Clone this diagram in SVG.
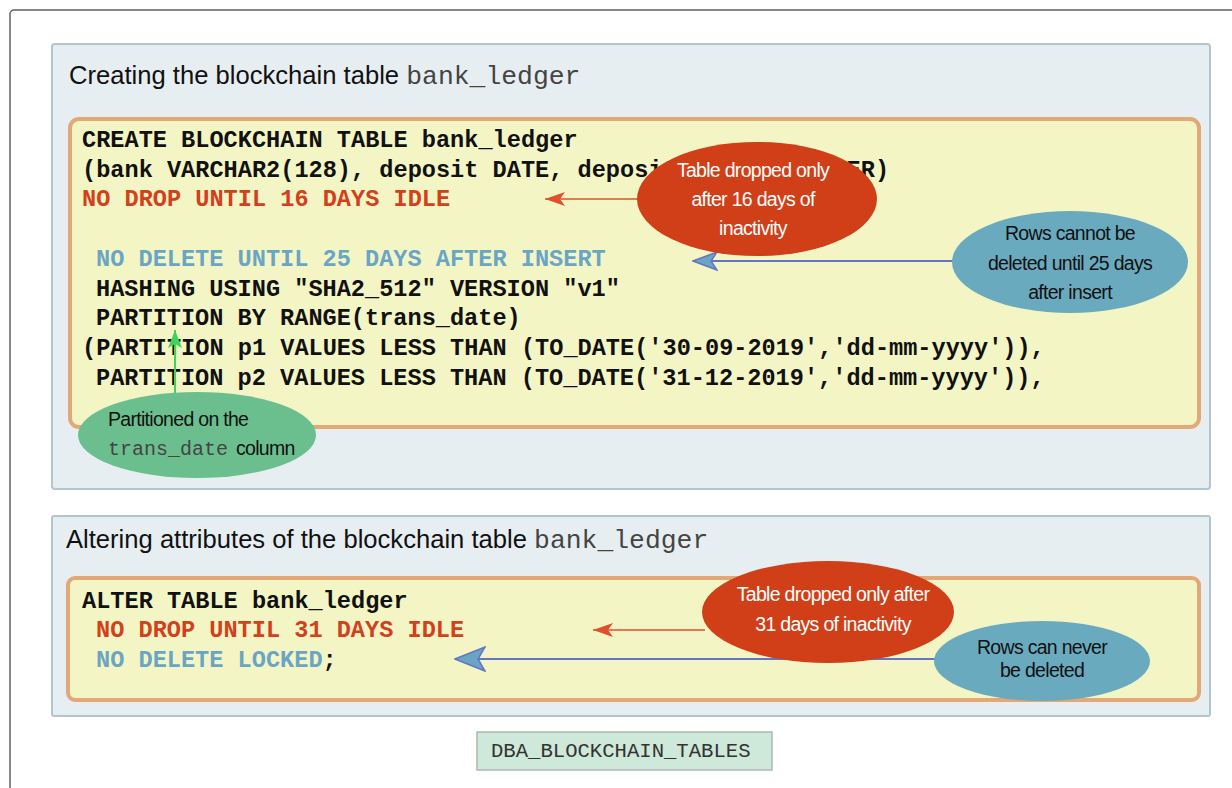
<svg xmlns="http://www.w3.org/2000/svg" width="1232" height="788" viewBox="0 0 1232 788">
<defs>
<style>
.frame{fill:#fff;stroke:#5a6068;stroke-width:1.5}
.panel{fill:#e7eef2;stroke:#b3c5d1;stroke-width:2}
.code-box{fill:#f4f5c4;stroke:#e3a878;stroke-width:4}
.title{font-family:"Liberation Sans",Arial,sans-serif;font-size:25.6px;fill:#111}
.tmono{font-family:"Liberation Mono","Courier New",monospace;font-size:26.4px;fill:#444}
.code{font-family:"Liberation Mono","Courier New",monospace;font-weight:bold;font-size:23.6px;fill:#111}
.red{fill:#d2401c}
.blue{fill:#6aa6c4}
.note{font-family:"Liberation Sans",Arial,sans-serif;font-size:19.5px;letter-spacing:-0.7px;text-anchor:middle}
.wt{fill:#fff}
.dk{fill:#111}
.e-red{fill:#d13f18}
.e-blue{fill:#6aaabf}
.e-green{fill:#6bbf8e}
.ln-red{stroke:#e0502c;stroke-width:1.6;fill:none}
.ln-blue{stroke:#6474c6;stroke-width:2;fill:none}
.ln-green{stroke:#3fd35c;stroke-width:2;fill:none}
</style>
<marker id="ah-red" viewBox="0 0 20 14" refX="20" refY="7" markerWidth="20" markerHeight="14" markerUnits="userSpaceOnUse" orient="auto">
<path d="M0,0 L20,7 L0,14 L5,7 Z" fill="#e0502c"/>
</marker>
<marker id="ah-blue" viewBox="0 0 26 20" refX="25" refY="10" markerWidth="26" markerHeight="20" markerUnits="userSpaceOnUse" orient="auto">
<path d="M1,1 L25,10 L1,19 L7,10 Z" fill="#6aa6c4" stroke="#6474c6" stroke-width="1.5"/>
</marker>
<marker id="ah-blue2" viewBox="0 0 32 26" refX="31" refY="13" markerWidth="32" markerHeight="26" markerUnits="userSpaceOnUse" orient="auto">
<path d="M1,1 L31,13 L1,25 L8,13 Z" fill="#6aa6c4" stroke="#6474c6" stroke-width="1.5"/>
</marker>
<marker id="ah-green" viewBox="0 0 14 18" refX="7" refY="0" markerWidth="14" markerHeight="18" markerUnits="userSpaceOnUse" orient="0">
<path d="M7,0 L14,18 L7,14 L0,18 Z" fill="#3fd35c"/>
</marker>
</defs>

<rect class="frame" x="10" y="10" width="1240" height="800" rx="4"/>

<g id="panel-create">
<rect class="panel" x="52" y="44" width="1158" height="445" rx="3"/>
<text x="69" y="84"><tspan class="title">Creating the blockchain table </tspan><tspan class="tmono">bank_ledger</tspan></text>
</g>

<g id="code-create">
<rect class="code-box" x="70" y="119" width="1129" height="308" rx="9"/>
<text class="code" x="82" y="147">CREATE BLOCKCHAIN TABLE bank_ledger</text>
<text class="code" x="82" y="177">(bank VARCHAR2(128), deposit DATE, deposit_amount NUMBER)</text>
<text class="code red" x="82" y="206">NO DROP UNTIL 16 DAYS IDLE</text>
<text class="code blue" x="96" y="266">NO DELETE UNTIL 25 DAYS AFTER INSERT</text>
<text class="code" x="96" y="296">HASHING USING "SHA2_512" VERSION "v1"</text>
<text class="code" x="96" y="325">PARTITION BY RANGE(trans_date)</text>
<text class="code" x="82" y="355">(PARTITION p1 VALUES LESS THAN (TO_DATE('30-09-2019','dd-mm-yyyy')),</text>
<text class="code" x="96" y="385">PARTITION p2 VALUES LESS THAN (TO_DATE('31-12-2019','dd-mm-yyyy')),</text>
</g>

<g id="panel-alter">
<rect class="panel" x="52" y="516" width="1158" height="200" rx="2"/>
<text x="66" y="548"><tspan class="title">Altering attributes of the blockchain table </tspan><tspan class="tmono">bank_ledger</tspan></text>
</g>

<g id="code-alter">
<rect class="code-box" x="68" y="578" width="1131" height="122" rx="7"/>
<text class="code" x="82" y="608">ALTER TABLE bank_ledger</text>
<text class="code red" x="96" y="637">NO DROP UNTIL 31 DAYS IDLE</text>
<text class="code" x="96" y="667"><tspan class="blue">NO DELETE LOCKED</tspan>;</text>
</g>

<g id="connectors">
<line class="ln-red" x1="640" y1="199" x2="545" y2="199" marker-end="url(#ah-red)"/>
<line class="ln-blue" x1="955" y1="261" x2="693" y2="261" marker-end="url(#ah-blue)"/>
<line class="ln-green" x1="175" y1="402" x2="175" y2="330" marker-end="url(#ah-green)"/>
<line class="ln-red" x1="705" y1="630" x2="593" y2="630" marker-end="url(#ah-red)"/>
<line class="ln-blue" x1="936" y1="659" x2="455" y2="659" marker-end="url(#ah-blue2)"/>
</g>

<g id="note-drop16">
<ellipse class="e-red" cx="757" cy="199" rx="120" ry="57"/>
<text class="note wt" x="753" y="177">Table dropped only</text>
<text class="note wt" x="753" y="206">after 16 days of</text>
<text class="note wt" x="753" y="235">inactivity</text>
</g>

<g id="note-delete25">
<ellipse class="e-blue" cx="1070" cy="262" rx="118" ry="51"/>
<text class="note dk" x="1070" y="240">Rows cannot be</text>
<text class="note dk" x="1070" y="270">deleted until 25 days</text>
<text class="note dk" x="1070" y="299">after insert</text>
</g>

<g id="note-partition">
<ellipse class="e-green" cx="197" cy="435" rx="119" ry="43"/>
<text class="note dk" x="108" y="426" style="text-anchor:start">Partitioned on the</text>
<text x="108" y="455"><tspan style="font-family:'Liberation Mono','Courier New',monospace;font-size:20px;fill:#444">trans_date</tspan><tspan class="note dk" dx="8" style="text-anchor:start">column</tspan></text>
</g>

<g id="note-drop31">
<ellipse class="e-red" cx="828" cy="612" rx="126" ry="51"/>
<text class="note wt" x="833" y="601">Table dropped only after</text>
<text class="note wt" x="833" y="631">31 days of inactivity</text>
</g>

<g id="note-locked">
<ellipse class="e-blue" cx="1042" cy="661" rx="108" ry="40"/>
<text class="note dk" x="1042" y="654">Rows can never</text>
<text class="note dk" x="1042" y="677">be deleted</text>
</g>

<g id="view-box">
<rect x="477" y="732" width="295" height="38" fill="#cee8d9" stroke="#aeb6b2" stroke-width="1.5"/>
<text x="491" y="757" style="font-family:'Liberation Mono','Courier New',monospace;font-size:20.6px;fill:#333">DBA_BLOCKCHAIN_TABLES</text>
</g>
</svg>
